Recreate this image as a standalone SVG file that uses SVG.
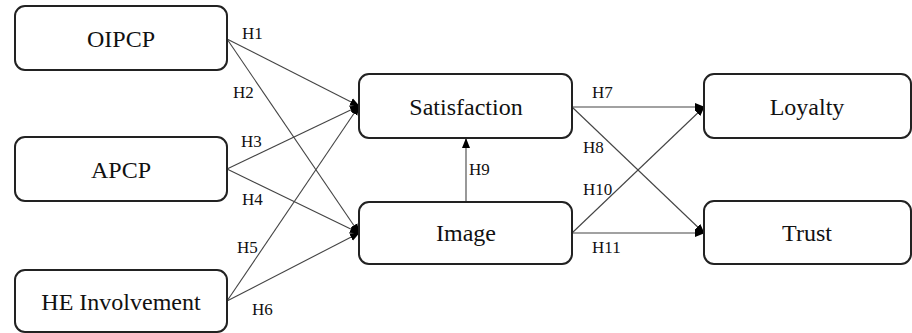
<svg xmlns="http://www.w3.org/2000/svg" width="912" height="333" viewBox="0 0 912 333">
<style>
.box{fill:#fff;stroke:#222;stroke-width:2}
.nt{font-family:'Liberation Serif','DejaVu Serif',serif;font-size:24px;fill:#111;text-anchor:middle}
.lb{font-family:'Liberation Serif','DejaVu Serif',serif;font-size:17px;fill:#111}
.ln{stroke:#444;stroke-width:1.1;fill:none;marker-end:url(#ah)}
</style>
<defs>
<marker id="ah" markerWidth="10" markerHeight="10" refX="9" refY="5" orient="auto" markerUnits="userSpaceOnUse">
<path d="M0,1 L10,5 L0,9 Z" fill="#000"/>
</marker>
</defs>
<rect width="912" height="333" fill="#fff"/>
<g id="connectors">
<line class="ln" x1="227" y1="39" x2="359" y2="106"/>
<line class="ln" x1="227" y1="39" x2="359" y2="233"/>
<line class="ln" x1="227" y1="169" x2="359" y2="106"/>
<line class="ln" x1="227" y1="169" x2="359" y2="233"/>
<line class="ln" x1="227" y1="301" x2="359" y2="106"/>
<line class="ln" x1="227" y1="301" x2="359" y2="233"/>
<line class="ln" x1="466" y1="202" x2="466" y2="139"/>
<line class="ln" x1="572" y1="107" x2="704" y2="107"/>
<line class="ln" x1="572" y1="107" x2="704" y2="233"/>
<line class="ln" x1="572" y1="233" x2="704" y2="107"/>
<line class="ln" x1="572" y1="233" x2="704" y2="233"/>
<text class="lb" x="242" y="39">H1</text>
<text class="lb" x="233" y="98">H2</text>
<text class="lb" x="241" y="147">H3</text>
<text class="lb" x="242" y="205">H4</text>
<text class="lb" x="237" y="253">H5</text>
<text class="lb" x="252" y="315">H6</text>
<text class="lb" x="592" y="98">H7</text>
<text class="lb" x="583" y="153">H8</text>
<text class="lb" x="469" y="175">H9</text>
<text class="lb" x="583" y="195">H10</text>
<text class="lb" x="592" y="253">H11</text>
</g>
<g id="oipcp"><rect class="box" x="15" y="6" width="212" height="64" rx="10"/><text class="nt" x="121" y="47">OIPCP</text></g>
<g id="apcp"><rect class="box" x="15" y="137" width="212" height="64" rx="10"/><text class="nt" x="121" y="178">APCP</text></g>
<g id="he"><rect class="box" x="15" y="270" width="212" height="62" rx="10"/><text class="nt" x="121" y="310">HE Involvement</text></g>
<g id="satisfaction"><rect class="box" x="359" y="74" width="213" height="64" rx="10"/><text class="nt" x="466" y="115">Satisfaction</text></g>
<g id="image"><rect class="box" x="359" y="202" width="213" height="62" rx="10"/><text class="nt" x="466" y="241">Image</text></g>
<g id="loyalty"><rect class="box" x="704" y="74" width="207" height="64" rx="10"/><text class="nt" x="807" y="115">Loyalty</text></g>
<g id="trust"><rect class="box" x="704" y="201" width="207" height="63" rx="10"/><text class="nt" x="807" y="241">Trust</text></g>
</svg>
